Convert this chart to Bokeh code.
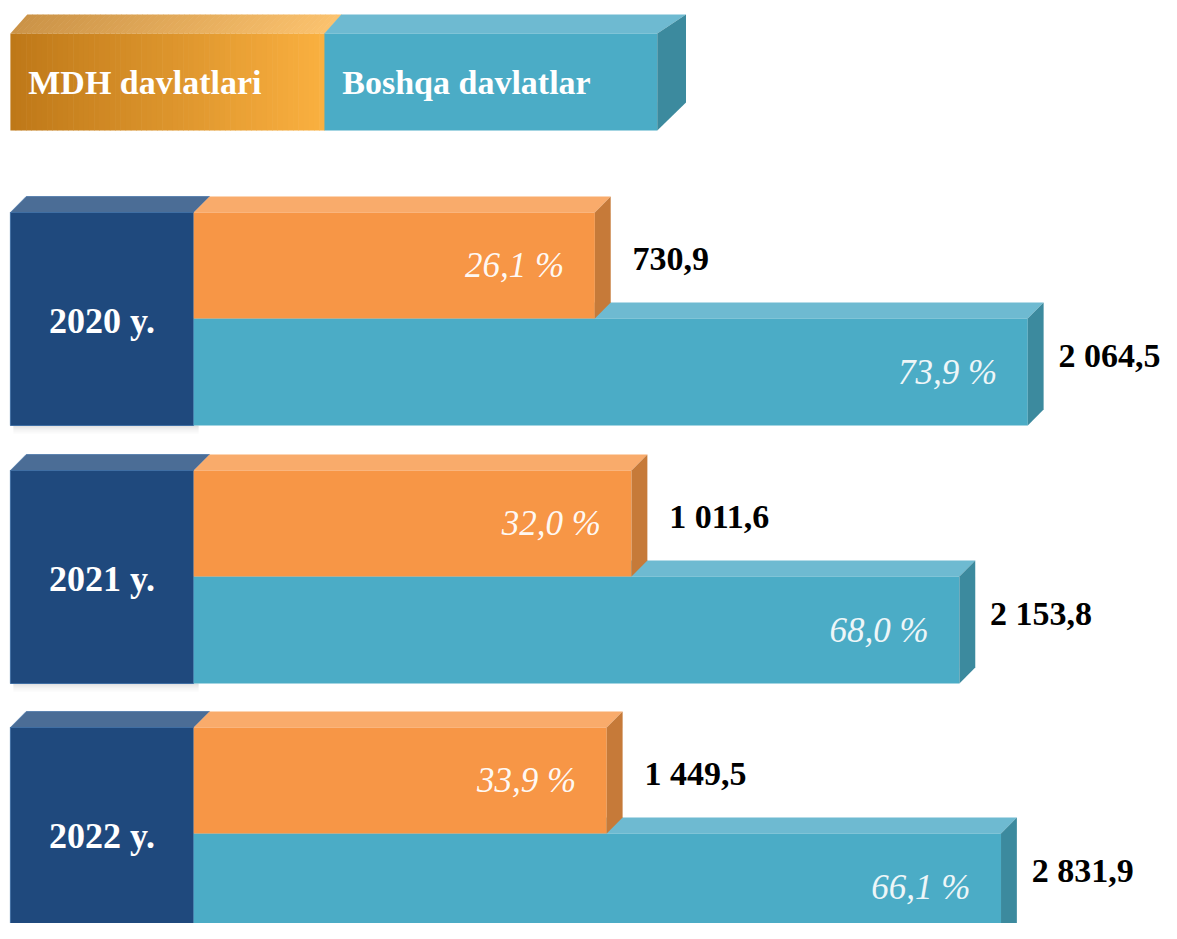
from bokeh.plotting import figure
from bokeh.models import Range1d
from bokeh.core.properties import value
from bokeh.embed import file_html
from bokeh.resources import INLINE

# ---------------- data ----------------
years = ["2020 y.", "2021 y.", "2022 y."]
series = ["MDH davlatlari", "Boshqa davlatlar"]
mdh_values = [730.9, 1011.6, 1449.5]
other_values = [2064.5, 2153.8, 2831.9]
mdh_share = [26.1, 32.0, 33.9]
other_share = [73.9, 68.0, 66.1]
# drawn bar lengths (the original is not to scale)
mdh_bar_len = [405, 442, 417]
other_bar_len = [842, 773, 815]

# ---------------- styles / layout ----------------
FONT = value("Liberation Serif")
C_BLOCK, C_BLOCK_TOP = "#1F497D", "#4B6D96"
C_OR, C_OR_TOP, C_OR_SIDE = "#F79646", "#F9AB6B", "#C67A39"
C_TE, C_TE_TOP, C_TE_SIDE = "#4BACC6", "#6EBAD1", "#3C8A9E"
D = 16                      # 3D depth offset
X0 = 195                    # bars start
BX0 = 10                    # year block left
ROW_TOP = [212, 470, 727]
H = 106

p = figure(width=1161, height=923, x_range=Range1d(0, 1172), y_range=Range1d(923, 0),
           output_backend="svg", toolbar_location=None, min_border=0)
p.axis.visible = False
p.grid.visible = False
p.outline_line_color = None
p.background_fill_color = "white"
p.border_fill_color = "white"


def hexrgb(c):
    c = c.lstrip("#")
    return tuple(int(c[i:i + 2], 16) for i in (0, 2, 4))


def lerp(c1, c2, t):
    a, b = hexrgb(c1), hexrgb(c2)
    return "#%02x%02x%02x" % tuple(round(a[i] + (b[i] - a[i]) * t) for i in range(3))


# ---------------- legend box ----------------
N = 60
lx0, lx_mid, lx1 = 10, 327, 663
ly_top, ly_front, ly_bot = 14, 33, 130
back_l, back_mid, back_r = 27, 344, 692
xs_f, xs_t, ys_t, cols_f, cols_t = [], [], [], [], []
for i in range(N):
    t0, t1 = i / N, (i + 1) / N
    fa = lx0 + (lx_mid - lx0) * t0
    fb = lx0 + (lx_mid - lx0) * t1
    ba = back_l + (back_mid - back_l) * t0
    bb = back_l + (back_mid - back_l) * t1
    xs_f.append([fa, fb + 0.6, fb + 0.6, fa])
    xs_t.append([fa, ba, bb + 0.6, fb + 0.6])
    ys_t.append([ly_front, ly_top, ly_top, ly_front])
    cols_f.append(lerp("#BE7818", "#FAB040", (t0 + t1) / 2))
    cols_t.append(lerp("#CB9347", "#FBC26E", (t0 + t1) / 2))
p.patches(xs_t, ys_t, fill_color=cols_t, line_color=None)
p.patches(xs_f, [[ly_front, ly_front, ly_bot, ly_bot]] * N, fill_color=cols_f, line_color=None)
# teal part
p.patch([lx_mid, back_mid, back_r, lx1], [ly_front, ly_top, ly_top, ly_front],
        fill_color=C_TE_TOP, line_color=None)
p.quad(left=[lx_mid], right=[lx1], top=[ly_front], bottom=[ly_bot], fill_color=C_TE, line_color=None)
p.patch([lx1, back_r, back_r, lx1], [ly_front, ly_top, 102, ly_bot],
        fill_color=C_TE_SIDE, line_color=None)
p.text(x=[28, 345], y=[82, 82], text=series, text_font=FONT, text_font_style="bold",
       text_font_size="34px", text_color="white", text_baseline="middle", text_align="left")


def fmt_val(v):
    return f"{v:,.1f}".replace(",", " ").replace(".", ",")


def fmt_pct(v):
    return f"{v:.1f}".replace(".", ",") + " %"


# ---------------- rows ----------------
for k in range(len(years)):
    top = ROW_TOP[k]
    mid = top + H
    bot = top + 2 * H + 1
    oend = X0 + mdh_bar_len[k]
    tend = X0 + other_bar_len[k]

    # shadow under year block
    for j, a in enumerate([0.22, 0.14, 0.08, 0.04]):
        p.quad(left=[BX0 + 3], right=[X0 + 5], top=[bot + j * 2], bottom=[bot + j * 2 + 2],
               fill_color="#808080", fill_alpha=a, line_color=None)

    # year block
    p.patch([BX0, BX0 + D, X0 + D, X0], [top, top - D, top - D, top],
            fill_color=C_BLOCK_TOP, line_color="#5E84B0", line_width=1)
    p.quad(left=[BX0], right=[X0], top=[top], bottom=[bot], fill_color=C_BLOCK,
           line_color="#3F6EA3", line_width=1)

    # teal bar (other countries)
    p.patch([X0, X0 + D, tend + D, tend], [mid, mid - D, mid - D, mid],
            fill_color=C_TE_TOP, line_color=None)
    p.quad(left=[X0], right=[tend], top=[mid], bottom=[bot], fill_color=C_TE, line_color=None)
    p.patch([tend, tend + D, tend + D, tend], [mid, mid - D, bot - D, bot],
            fill_color=C_TE_SIDE, line_color=None)

    # orange bar (CIS)
    p.patch([X0, X0 + D, oend + D, oend], [top, top - D, top - D, top],
            fill_color=C_OR_TOP, line_color=None)
    p.quad(left=[X0], right=[oend], top=[top], bottom=[mid], fill_color=C_OR, line_color=None)
    p.patch([oend, oend + D, oend + D, oend], [top, top - D, mid - D, mid],
            fill_color=C_OR_SIDE, line_color=None)

    # texts
    p.text(x=[(BX0 + X0) / 2], y=[(top + bot) / 2 + 2], text=[years[k]], text_font=FONT,
           text_font_style="bold", text_font_size="36px", text_color="white",
           text_align="center", text_baseline="middle")
    p.text(x=[oend - 31], y=[(top + mid) / 2], text=[fmt_pct(mdh_share[k])], text_font=FONT,
           text_font_style="italic", text_font_size="35px", text_color="white",
           text_alpha=0.95, text_align="right", text_baseline="middle")
    p.text(x=[tend - 31], y=[(mid + bot) / 2], text=[fmt_pct(other_share[k])], text_font=FONT,
           text_font_style="italic", text_font_size="35px", text_color="#EEF6F8",
           text_align="right", text_baseline="middle")
    p.text(x=[oend + D + 22], y=[(top + mid) / 2 - 7], text=[fmt_val(mdh_values[k])],
           text_font=FONT, text_font_style="bold", text_font_size="34px", text_color="black",
           text_align="left", text_baseline="middle")
    p.text(x=[tend + D + 15], y=[(mid + bot) / 2 - 17], text=[fmt_val(other_values[k])],
           text_font=FONT, text_font_style="bold", text_font_size="34px", text_color="black",
           text_align="left", text_baseline="middle")

open("out.html", "w").write(file_html(p, INLINE))
